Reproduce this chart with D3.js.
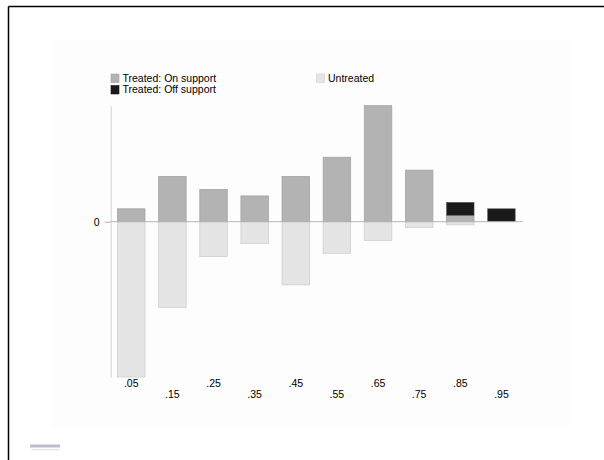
<!DOCTYPE html>
<html>
<head>
<meta charset="utf-8">
<script src="https://cdn.jsdelivr.net/npm/d3@7"></script>
<style>
  body { margin: 0; background: #fff; }
  svg { display: block; font-family: "Liberation Sans", Arial, sans-serif; }
</style>
</head>
<body>
<div id="chart"></div>
<script>
// propensity score bins (midpoints)
const bins = [0.05, 0.15, 0.25, 0.35, 0.45, 0.55, 0.65, 0.75, 0.85, 0.95];
const binLabels = [".05", ".15", ".25", ".35", ".45", ".55", ".65", ".75", ".85", ".95"];
// treated on common support (up), off support stacked on top
const onSupport = [2, 7, 5, 4, 7, 10, 18, 8, 1, 0];
const offSupport = [0, 0, 0, 0, 0, 0, 0, 0, 2, 2];
// untreated drawn downward
const untreated = [-24.1, -13.3, -5.4, -3.4, -9.8, -4.9, -2.9, -0.9, -0.5, 0];

const W = 604, H = 460;

const svg = d3.select("#chart")
  .append("svg")
  .attr("width", W)
  .attr("height", H);

/* faint plot region background */
svg.append("rect")
  .attr("x", 53).attr("y", 40)
  .attr("width", 517).attr("height", 388)
  .attr("fill", "#fdfdfd");

/* frame lines (top and left only) */
svg.append("line")
  .attr("x1", 8.5).attr("x2", W).attr("y1", 6.5).attr("y2", 6.5)
  .attr("stroke", "#000").attr("stroke-width", 1.5);
svg.append("line")
  .attr("x1", 8.5).attr("x2", 8.5).attr("y1", 6.5).attr("y2", H)
  .attr("stroke", "#000").attr("stroke-width", 1.5);

const x = d3.scaleLinear().domain([0, 1]).range([110.7, 522]);
const y = d3.scaleLinear().domain([-24.1, 18]).range([377, 105.7]);
const halfW = 0.0334;

/* y axis */
const yAxis = svg.append("g")
  .attr("transform", `translate(${x(0)},0)`)
  .call(d3.axisLeft(y).tickValues([0]).tickSizeInner(6).tickSizeOuter(0).tickPadding(5).tickFormat(d3.format("d")));
yAxis.select(".domain").attr("stroke", "#d2d2d2");
yAxis.selectAll(".tick line").attr("stroke", "#b4b4b4");
yAxis.selectAll(".tick text").attr("font-size", 10.5).attr("fill", "#000")
  .attr("font-family", "Liberation Sans, Arial, sans-serif");

/* untreated bars */
svg.append("g").selectAll("rect")
  .data(bins.map((b, i) => ({ b, v: untreated[i] })).filter(d => d.v < 0))
  .join("rect")
  .attr("x", d => x(d.b - halfW))
  .attr("width", d => x(d.b + halfW) - x(d.b - halfW))
  .attr("y", y(0))
  .attr("height", d => y(d.v) - y(0))
  .attr("fill", "#e5e5e5")
  .attr("stroke", "#cfcfcf")
  .attr("stroke-width", 0.8);

/* treated on support */
svg.append("g").selectAll("rect")
  .data(bins.map((b, i) => ({ b, v: onSupport[i] })).filter(d => d.v > 0))
  .join("rect")
  .attr("x", d => x(d.b - halfW))
  .attr("width", d => x(d.b + halfW) - x(d.b - halfW))
  .attr("y", d => y(d.v))
  .attr("height", d => y(0) - y(d.v))
  .attr("fill", "#b3b3b3")
  .attr("stroke", "#a4a4a4")
  .attr("stroke-width", 0.8);

/* treated off support, stacked */
svg.append("g").selectAll("rect")
  .data(bins.map((b, i) => ({ b, base: onSupport[i], v: offSupport[i] })).filter(d => d.v > 0))
  .join("rect")
  .attr("x", d => x(d.b - halfW))
  .attr("width", d => x(d.b + halfW) - x(d.b - halfW))
  .attr("y", d => y(d.base + d.v))
  .attr("height", d => y(d.base) - y(d.base + d.v))
  .attr("fill", "#1a1a1a")
  .attr("stroke", "#555")
  .attr("stroke-width", 0.6);

/* zero line */
svg.append("line")
  .attr("x1", x(0)).attr("x2", x(1))
  .attr("y1", y(0)).attr("y2", y(0))
  .attr("stroke", "#b4b4b4").attr("stroke-width", 1);

/* x labels, staggered */
svg.append("g").selectAll("text")
  .data(bins)
  .join("text")
  .attr("x", d => x(d))
  .attr("y", (d, i) => i % 2 === 0 ? 387 : 398)
  .attr("text-anchor", "middle")
  .attr("font-size", 10.5)
  .text((d, i) => binLabels[i]);

/* legend */
const legend = [
  { label: "Treated: On support", color: "#b3b3b3", stroke: "#a4a4a4", x: 111, y: 74 },
  { label: "Treated: Off support", color: "#1a1a1a", stroke: "#1a1a1a", x: 111, y: 85.5 },
  { label: "Untreated", color: "#e5e5e5", stroke: "#cfcfcf", x: 316.5, y: 74 }
];
const lg = svg.append("g").selectAll("g")
  .data(legend)
  .join("g")
  .attr("transform", d => `translate(${d.x},${d.y})`);
lg.append("rect")
  .attr("width", 8).attr("height", 8.5)
  .attr("fill", d => d.color)
  .attr("stroke", d => d.stroke).attr("stroke-width", 0.6);
lg.append("text")
  .attr("x", 11.5).attr("y", 7.5)
  .attr("font-size", 10.5)
  .text(d => d.label);

/* small badge bottom left */
svg.append("rect")
  .attr("x", 30).attr("y", 444.5).attr("width", 30).attr("height", 3)
  .attr("fill", "#bdbdd2");
svg.append("rect")
  .attr("x", 31).attr("y", 449).attr("width", 28).attr("height", 1.2)
  .attr("fill", "#e2e2ea");
</script>
</body>
</html>
